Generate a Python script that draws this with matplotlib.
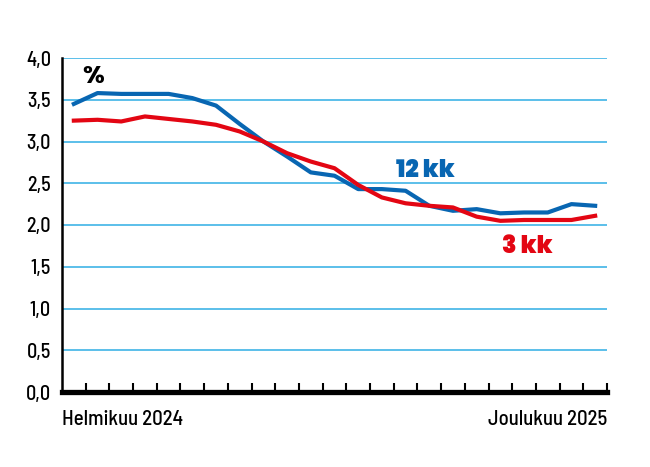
import matplotlib
matplotlib.use("Agg")
import matplotlib.pyplot as plt

months = ["2024-02","2024-03","2024-04","2024-05","2024-06","2024-07","2024-08","2024-09",
          "2024-10","2024-11","2024-12","2025-01","2025-02","2025-03","2025-04","2025-05",
          "2025-06","2025-07","2025-08","2025-09","2025-10","2025-11","2025-12"]
euribor_12kk = [3.45, 3.58, 3.57, 3.57, 3.57, 3.52, 3.43, 3.21, 3.00, 2.82, 2.63, 2.59,
                2.43, 2.43, 2.41, 2.23, 2.17, 2.19, 2.14, 2.15, 2.15, 2.25, 2.23]
euribor_3kk = [3.25, 3.26, 3.24, 3.30, 3.27, 3.24, 3.20, 3.12, 3.00, 2.86, 2.76, 2.68,
               2.48, 2.33, 2.26, 2.23, 2.21, 2.10, 2.05, 2.06, 2.06, 2.06, 2.11]
y_ticks = [0.0, 0.5, 1.0, 1.5, 2.0, 2.5, 3.0, 3.5, 4.0]
y_tick_labels = ["0,0", "0,5", "1,0", "1,5", "2,0", "2,5", "3,0", "3,5", "4,0"]
x_labels = ["Helmikuu 2024", "Joulukuu 2025"]

COND = ['Barlow Semi Condensed', 'Roboto Condensed', 'Liberation Sans Narrow', 'DejaVu Sans']
HEAVY = ['Poppins', 'Roboto', 'DejaVu Sans']
plt.rcParams['font.family'] = COND

BLUE = "#0866b2"
RED = "#e30613"
GRID = "#5bbfea"

fig = plt.figure(figsize=(6.5, 4.67), dpi=100)
ax = fig.add_axes([62/650, 75/467, 545/650, 334/467])

n = len(months)
xs = [i + 0.5 for i in range(n)]
ax.set_xlim(0, n)
ax.set_ylim(0, 4.0)

for v in y_ticks[1:]:
    ax.axhline(v, color=GRID, lw=1.4, zorder=1)

ax.plot(xs, euribor_12kk, color=BLUE, lw=3.0, zorder=3)
ax.plot(xs, euribor_3kk, color=RED, lw=3.0, zorder=4)

ax.set_yticks(y_ticks)
ax.set_yticklabels(y_tick_labels, fontsize=14.5, family=COND, fontweight='medium')
ax.tick_params(axis='y', length=0, pad=8)
ax.set_xticks(range(1, n + 1))
ax.set_xticklabels([])
ax.tick_params(axis='x', direction='in', length=6.5, width=1.5, color='black')

for s in ['top', 'right']:
    ax.spines[s].set_visible(False)
ax.spines['left'].set_linewidth(1.8)
ax.spines['bottom'].set_linewidth(3.8)
ax.spines['left'].set_zorder(5)
ax.spines['bottom'].set_zorder(5)

ax.text(0, -0.395, x_labels[0], ha='left', va='baseline', fontsize=15,
        family=COND, fontweight='medium')
ax.text(n, -0.395, x_labels[1], ha='right', va='baseline', fontsize=15,
        family=COND, fontweight='medium')

ax.text(1.31, 3.70, "%", fontsize=18, fontweight='bold', family=HEAVY,
        ha='center', va='baseline')
ax.text(15.32, 2.578, "12 kk", fontsize=17, fontweight='black', family=HEAVY,
        color=BLUE, ha='center', va='baseline')
ax.text(19.64, 1.665, "3 kk", fontsize=17, fontweight='black', family=HEAVY,
        color=RED, ha='center', va='baseline')

fig.savefig("out.png", dpi=100)
